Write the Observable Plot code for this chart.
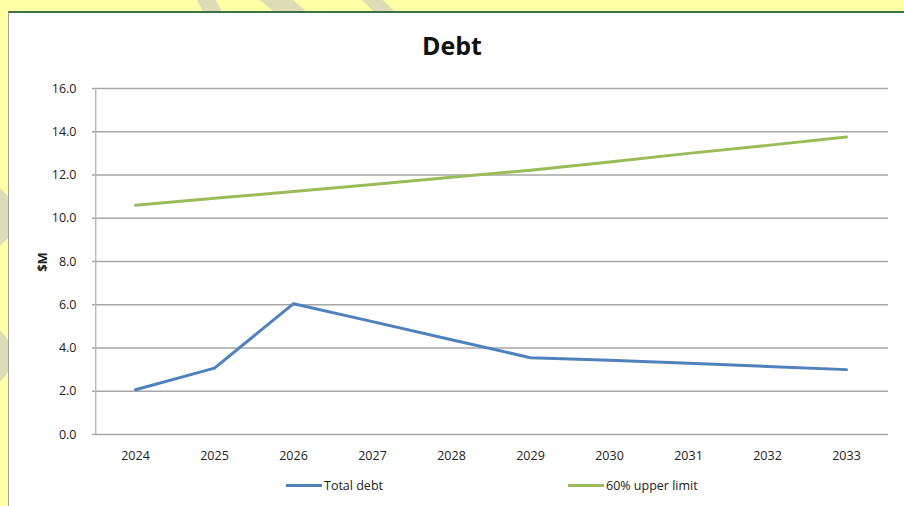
<!DOCTYPE html>
<html>
<head>
<meta charset="utf-8">
<script src="https://cdn.jsdelivr.net/npm/d3@7"></script>
<script src="https://cdn.jsdelivr.net/npm/@observablehq/plot@0.6"></script>
<style>
  html, body { margin: 0; padding: 0; }
  body { width: 904px; height: 506px; overflow: hidden; position: relative; background: #ffffa6; font-family: "Open Sans", sans-serif; }
  #bg { position: absolute; left: 0; top: 0; }
  #panel { position: absolute; left: 8px; top: 11px; width: 896px; height: 495px; background: #fff; border-top: 2px solid #3f6f45; border-left: 1px solid #a0a0a0; box-sizing: border-box; }
  #title { position: absolute; left: 0; width: 904px; top: 28px; text-align: center; font-size: 25px; font-weight: bold; color: #111; }
  #chart { position: absolute; left: 0; top: 0; }
  #ylabel { position: absolute; left: 42px; top: 262px; transform: translate(-50%, -50%) rotate(-90deg); font-size: 13px; font-weight: bold; color: #222; white-space: nowrap; }
  .leg { position: absolute; top: 477px; display: flex; align-items: center; font-size: 12.5px; color: #222; }
  .leg span.sw { display: inline-block; width: 36px; height: 3px; margin-right: 2px; }
</style>
</head>
<body>
<svg id="bg" width="904" height="506">
  <polygon points="197,0 216,0 222,12 203,12" fill="#dedcb6"/>
  <polygon points="260,0 293,0 307,12 274,12" fill="#dedcb6"/>
  <polygon points="362,0 383,0 395,12 374,12" fill="#dedcb6"/>
  <polygon points="0,188 8,196 8,238 0,246" fill="#dedcb6"/>
  <polygon points="0,330 8,340 8,372 0,382" fill="#dedcb6"/>
</svg>
<div id="panel"></div>
<div id="title">Debt</div>
<div id="chart"></div>
<div id="ylabel">$M</div>
<div class="leg" style="left:286px"><span class="sw" style="background:#4f81bd"></span>Total debt</div>
<div class="leg" style="left:568px"><span class="sw" style="background:#9bbb59"></span>60% upper limit</div>
<script>
const years = ["2024","2025","2026","2027","2028","2029","2030","2031","2032","2033"];
const totalDebt = [2.07, 3.07, 6.05, 5.22, 4.38, 3.55, 3.43, 3.30, 3.15, 3.00];
const upperLimit = [10.6, 10.92, 11.24, 11.56, 11.9, 12.22, 12.6, 13.0, 13.37, 13.76];
const yTicks = [0, 2, 4, 6, 8, 10, 12, 14, 16];
const seriesNames = ["Total debt", "60% upper limit"];
const seriesColors = ["#4f81bd", "#9bbb59"];

const data = [];
years.forEach((y, i) => {
  data.push({year: y, value: totalDebt[i], series: seriesNames[0]});
  data.push({year: y, value: upperLimit[i], series: seriesNames[1]});
});

const chart = Plot.plot({
  width: 904,
  height: 476,
  marginLeft: 92,
  marginRight: 16,
  marginTop: 88,
  marginBottom: 42,
  style: { background: "transparent", fontFamily: "Open Sans, sans-serif", fontSize: "12.5px", color: "#222" },
  x: { type: "point", domain: years, padding: 0.5, label: null },
  y: { domain: [0, 16], label: null },
  color: { domain: seriesNames, range: seriesColors },
  marks: [
    Plot.gridY(yTicks, { stroke: "#a6a6a6", strokeOpacity: 1, strokeWidth: 1.5 }),
    Plot.ruleX([years[0]], { stroke: "#b8b8b8", strokeWidth: 1.5, y1: 0, y2: 16, dx: -39.8 }),
    Plot.axisX({ tickSize: 0, tickPadding: 17, fontSize: 12.5 }),
    Plot.axisY(yTicks, { tickSize: 0, tickPadding: 16, tickFormat: d3.format(".1f"), fontSize: 12.5 }),
    Plot.line(data, { x: "year", y: "value", stroke: "series", strokeWidth: 3, curve: "linear" })
  ]
});
document.getElementById("chart").appendChild(chart);
</script>
</body>
</html>
